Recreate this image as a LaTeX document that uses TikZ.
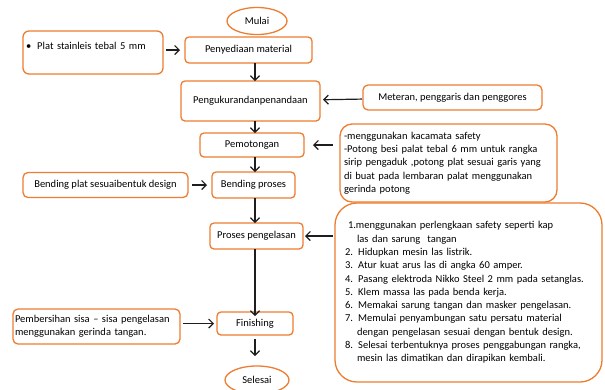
\documentclass[tikz,border=0pt]{standalone}
\usepackage{fontspec}
\setmainfont{Carlito}
\usepackage{tikz}
\usetikzlibrary{positioning,shapes.geometric,arrows.meta}
\definecolor{boxorange}{RGB}{237,125,49}
\definecolor{inkgray}{RGB}{30,30,30}

\begin{document}
\begin{tikzpicture}[
    ->,
    >={Straight Barb[length=4.5pt,width=9pt]},
    line width=1.2pt,
    draw=inkgray,
    font=\fontsize{10.5pt}{13.3pt}\selectfont,
    text=black,
    step node/.style={draw=boxorange,line width=1.3pt,rounded corners=4pt,fill=white,
                      inner sep=2pt,outer sep=0pt},
    note node/.style={draw=boxorange,line width=1.3pt,rounded corners=6pt,fill=white,
                      align=left,inner sep=2pt,outer sep=0pt},
    end node/.style={draw=boxorange,line width=1.3pt,ellipse,fill=white,
                     inner sep=0pt,outer sep=0pt}
    ]

    \useasboundingbox (0,0) rectangle (605pt,-389pt);

    % main column
    \node[end node, minimum width=60pt, minimum height=27pt] (mulai) at (257pt,-21pt) {Mulai};
    \node[step node, minimum width=127pt, minimum height=26pt] (penyediaan) [below=2.5pt of mulai, xshift=-8.5pt] {Penyediaan material};
    \node[step node, minimum width=139pt, minimum height=40pt] (pengukuran) [below=18pt of penyediaan, xshift=2pt] {Pengukurandanpenandaan};
    \node[step node, minimum width=104pt, minimum height=24pt] (pemotongan) [below=12pt of pengukuran, xshift=1.5pt] {Pemotongan};
    \node[step node, minimum width=83pt, minimum height=26pt] (bending) [below=15pt of pemotongan, xshift=1.5pt] {Bending proses};
    \node[step node, minimum width=93pt, minimum height=26pt] (pengelasan) [below=25pt of bending, xshift=3pt] {Proses pengelasan};
    \node[step node, minimum width=76pt, minimum height=23pt] (finishing) [below=63pt of pengelasan, xshift=-1.5pt] {Finishing};
    \node[end node, minimum width=64pt, minimum height=28pt] (selesai) [below=31pt of finishing, xshift=2pt] {Selesai};

    % side notes
    \node[note node, text width=134pt, inner xsep=3pt, text height=14.5pt, text depth=20.5pt, inner ysep=4pt] (plat) [left=22pt of penyediaan, yshift=-2.5pt] {\textbullet\hspace{6pt}Plat stainleis tebal 5 mm};
    \node[step node, rounded corners=5pt, minimum width=179pt, minimum height=25pt] (meteran) [right=43pt of pengukuran, yshift=3.5pt] {Meteran, penggaris dan penggores};
    \node[note node, rounded corners=12pt, text width=209pt, inner xsep=4pt, minimum height=78pt] (potong) [right=36pt of pemotongan, yshift=-18pt] {-menggunakan kacamata safety\\
      -Potong besi palat tebal 6 mm untuk rangka\\
      sirip pengaduk ,potong plat sesuai garis yang\\
      di buat pada lembaran palat menggunakan\\
      gerinda potong};
    \node[step node, rounded corners=5pt, minimum width=165pt, minimum height=25pt] (bendplat) [left=24pt of bending] {Bending plat sesuaibentuk design};
    \node[note node, rounded corners=22pt, text width=247pt, inner xsep=10pt, minimum height=179pt] (las) [right=32pt of pengelasan, yshift=-56.5pt] {\hspace*{3pt}1.menggunakan perlengkaan safety seperti kap\\
      \hspace*{12pt}las dan sarung\ \ tangan\\
      2. Hidupkan mesin las listrik.\\
      3. Atur kuat arus las di angka 60 amper.\\
      4. Pasang elektroda Nikko Steel 2 mm pada setanglas.\\
      5. Klem massa las pada benda kerja.\\
      6. Memakai sarung tangan dan masker pengelasan.\\
      7. Memulai penyambungan satu persatu material\\
      \hspace*{12pt}dengan pengelasan sesuai dengan bentuk design.\\
      8. Selesai terbentuknya proses penggabungan rangka,\\
      \hspace*{12pt}mesin las dimatikan dan dirapikan kembali.};
    \node[note node, rounded corners=5pt, text width=163pt, minimum height=35pt] (bersih) [left=37pt of finishing, yshift=-3pt] {Pembersihan sisa -- sisa pengelasan\\
      menggunakan gerinda tangan.};

    \coordinate (axis) at (255pt,0);

    \path[]
      (penyediaan.south -| axis) edge (pengukuran.north -| axis)
      (pengukuran.south -| axis) edge (pemotongan.north -| axis)
      (pemotongan.south -| axis) edge (bending.north -| axis)
      (bending.south -| axis) edge (pengelasan.north -| axis)
      (pengelasan.south -| axis) edge [shorten >=-4pt] (finishing.north -| axis)
      (finishing.south -| axis) edge [shorten <=4pt, shorten >=10pt] (selesai.north -| axis)
      (plat.east |- penyediaan) edge [shorten <=3pt, shorten >=5pt] (penyediaan)
      (meteran) edge [shorten <=1pt, shorten >=3pt] (pengukuran)
      (potong.west |- pemotongan) edge [shorten <=7pt, shorten >=9pt] (pemotongan)
      (bendplat) edge [shorten <=4pt, shorten >=5pt] (bending)
      (las.west |- pengelasan) edge [shorten <=2pt, shorten >=2pt] (pengelasan)
      (bersih.east |- finishing) edge [shorten <=3pt, shorten >=3pt] (finishing);
\end{tikzpicture}
\end{document}
